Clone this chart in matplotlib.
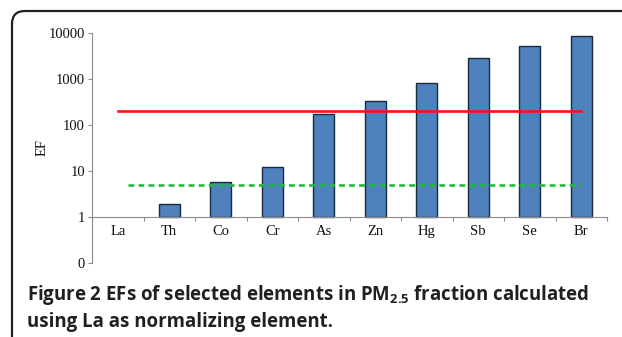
import matplotlib

matplotlib.use("Agg")

import matplotlib.pyplot as plt
from matplotlib.patches import FancyBboxPatch
from matplotlib.ticker import FixedLocator, FixedFormatter, NullFormatter

elements = ["La", "Th", "Co", "Cr", "As", "Zn", "Hg", "Sb", "Se", "Br"]
ef_values = [1.0, 1.9, 5.9, 12.4, 171, 337, 806, 2900, 5100, 8700]
upper_threshold = 200
lower_threshold = 5
y_ticks = [0.1, 1, 10, 100, 1000, 10000]
y_tick_labels = ["0", "1", "10", "100", "1000", "10000"]

plt.rcParams["mathtext.fontset"] = "custom"
plt.rcParams["mathtext.bf"] = "Open Sans:bold"
plt.rcParams["mathtext.rm"] = "Open Sans"

W, H = 622, 337
fig = plt.figure(figsize=(W / 100, H / 100), dpi=100)

# frame with rounded top-left corner, clipped on right and bottom
bg = fig.add_axes([0, 0, 1, 1])
bg.set_xlim(0, W)
bg.set_ylim(H, 0)
bg.axis("off")
bg.add_patch(FancyBboxPatch((12, 11), 700, 400,
                            boxstyle="round,pad=0,rounding_size=13",
                            facecolor="none", edgecolor="#231f20", linewidth=1.6))

ax = fig.add_axes([92 / W, 1 - 263 / H, (607 - 92) / W, (263 - 33) / H])
ax.set_yscale("log")
ax.set_ylim(0.1, 10000)
ax.set_xlim(-0.5, len(elements) - 0.5)

# bars rise from the EF = 1 baseline; La (EF = 1) has no visible bar
x = [i for i, v in enumerate(ef_values) if v > 1]
heights = [ef_values[i] - 1 for i in x]
ax.bar(x, heights, bottom=1, width=0.41, color="#4f81bd",
       edgecolor="#1c2a3d", linewidth=1.0, zorder=3)
ax.plot([0, len(elements) - 1], [upper_threshold] * 2, color="#ff1010",
        linewidth=1.9, zorder=4)
ax.plot([0.2, len(elements) - 1], [lower_threshold] * 2, color="#1fbb3c",
        linewidth=1.9, linestyle=(0, (2.2, 1.6)), zorder=4)

for side in ("top", "right"):
    ax.spines[side].set_visible(False)
ax.spines["bottom"].set_position(("data", 1))
ax.spines["bottom"].set_color("#8c8c8c")
ax.spines["left"].set_color("#8c8c8c")
ax.spines["bottom"].set_zorder(5)

ax.yaxis.set_major_locator(FixedLocator(y_ticks))
ax.yaxis.set_major_formatter(FixedFormatter(y_tick_labels))
ax.yaxis.set_minor_locator(FixedLocator([]))
ax.yaxis.set_minor_formatter(NullFormatter())
ax.tick_params(axis="y", which="major", direction="out", length=3, width=0.8,
               color="#8c8c8c", pad=2, labelsize=10.5, labelcolor="#111111")

ax.xaxis.set_major_locator(FixedLocator(range(len(elements))))
ax.xaxis.set_major_formatter(FixedFormatter(elements))
ax.xaxis.set_minor_locator(FixedLocator([i + 0.5 for i in range(-1, len(elements))]))
ax.tick_params(axis="x", which="major", length=0, pad=6, labelsize=10.5,
               labelcolor="#111111")
ax.tick_params(axis="x", which="minor", direction="out", length=3, width=0.8,
               color="#8c8c8c")
for lab in ax.get_xticklabels() + ax.get_yticklabels():
    lab.set_family("Liberation Serif")

ax.set_ylabel("EF", family="Liberation Serif", fontsize=10.5, color="#111111")
ax.yaxis.set_label_coords(-0.085, 0.5)

cap_kw = dict(fontsize=13.4, fontweight="bold", color="#231f20",
              family="Open Sans", va="baseline", ha="left")
fig.text(27 / W, 1 - 300 / H,
         r"Figure 2 EFs of selected elements in PM$_{\mathbf{2.5}}$ fraction calculated",
         **cap_kw)
fig.text(27 / W, 1 - 327 / H, "using La as normalizing element.", **cap_kw)

fig.savefig("out.png", dpi=100)
